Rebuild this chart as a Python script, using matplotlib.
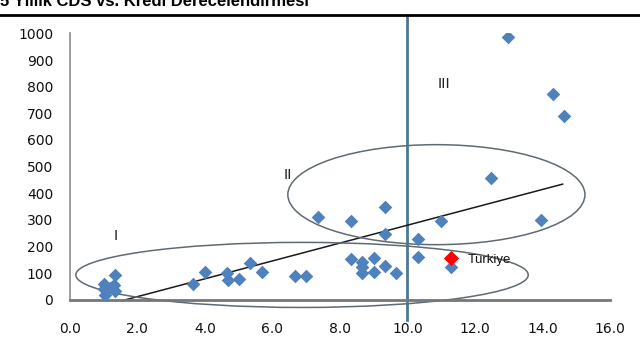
import matplotlib
matplotlib.use("Agg")
import matplotlib.pyplot as plt
from matplotlib.patches import Ellipse

plt.rcParams['font.family'] = ['Liberation Sans', 'DejaVu Sans']

# rating score (x) vs 5y CDS spread (y)
rating = [1.0, 1.0, 1.05, 1.35, 1.3, 1.35, 1.2,
          3.65, 4.0, 4.65, 4.7, 5.0, 5.35, 5.7, 6.67, 7.0,
          7.35, 8.33, 8.33, 8.67, 8.67, 8.67, 9.0, 9.0, 9.33, 9.33, 9.33, 9.66,
          10.32, 10.32, 11.0, 11.3, 12.47, 13.97, 12.99, 14.3, 14.64]
cds = [60, 40, 20, 95, 55, 35, 45,
       60, 106, 100, 75, 78, 137, 106, 91, 91,
       310, 298, 153, 144, 125, 100, 156, 106, 350, 248, 128, 100,
       228, 163, 296, 124, 459, 300, 985, 771, 691]
turkey = (11.3, 157)

# trend line: cds = slope * rating + intercept
trend_slope = 33.5
trend_intercept = -54.6
trend_range = (1.63, 14.6)

# group ellipses: centre x, centre y, width, height
groups = {
    'I': (6.88, 94, 13.4, 244),
    'II': (10.86, 395, 8.8, 375),
}
group_labels = [('I', 1.35, 240), ('II', 6.45, 470), ('III', 11.08, 810)]

xticks = [0, 2, 4, 6, 8, 10, 12, 14, 16]
yticks = list(range(0, 1001, 100))

fig = plt.figure(figsize=(6.4, 3.6), dpi=100)
ax = fig.add_axes([0.109, 0.1667, 0.844, 0.7407])

ax.scatter(rating, cds, marker='D', s=48, color='#4F81BD', zorder=3, linewidths=0)
ax.scatter([turkey[0]], [turkey[1]], marker='D', s=60, color='#FF0000', zorder=4, linewidths=0)
ax.text(turkey[0] + 0.5, turkey[1] - 8, 'Türkiye', fontsize=9.5, va='center', ha='left',
        color='#111111')

tx = list(trend_range)
ax.plot(tx, [trend_slope * v + trend_intercept for v in tx], color='#1a1a1a', lw=1.1, zorder=2)

for name, (cx, cy, w, h) in groups.items():
    ax.add_patch(Ellipse((cx, cy), w, h, fill=False, edgecolor='#5f6a72', lw=1.1,
                         clip_on=False, zorder=2))

for lab, lx, ly in group_labels:
    ax.text(lx, ly, lab, fontsize=11, ha='center', va='center', color='#222222')

ax.plot([10, 10], [-75, 1070], color='#4A7896', lw=2.0, clip_on=False, zorder=1)

ax.set_xlim(0, 16)
ax.set_ylim(0, 1000)
ax.set_xticks(xticks)
ax.set_xticklabels([f'{v:.1f}' for v in xticks], family='DejaVu Sans')
ax.set_yticks(yticks)
ax.set_yticklabels([str(v) for v in yticks], family='DejaVu Sans')
ax.tick_params(length=0, labelsize=10, colors='#111111')
ax.tick_params(axis='x', pad=16)
ax.tick_params(axis='y', pad=12)
for side in ['top', 'right']:
    ax.spines[side].set_visible(False)
ax.spines['left'].set_color('#8c8c8c')
ax.spines['left'].set_linewidth(1.2)
ax.spines['bottom'].set_color('#777777')
ax.spines['bottom'].set_linewidth(2.0)

fig.text(0.0, 0.982, '5 Yıllık CDS vs. Kredi Derecelendirmesi', fontsize=12,
         fontweight='bold', ha='left', va='baseline',
         family=['Liberation Sans Narrow', 'Liberation Sans', 'DejaVu Sans'])
fig.add_artist(plt.Line2D([0, 1], [0.958, 0.958], color='black', lw=2.0))

fig.savefig('out.png', dpi=100)
